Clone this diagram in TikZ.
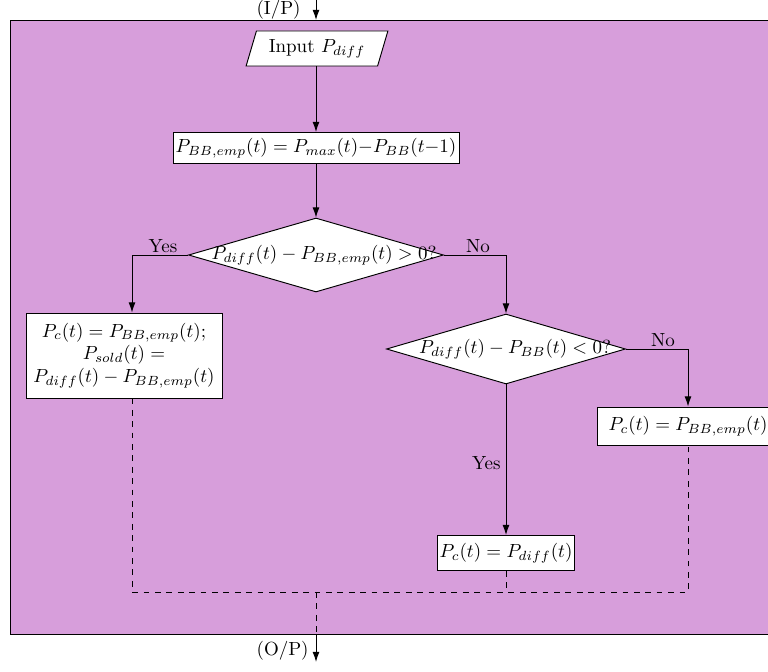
\documentclass[tikz,border=0pt]{standalone}
\usetikzlibrary{shapes.geometric,arrows.meta}
\definecolor{panel}{RGB}{215,158,219}
\def\pu{0.5263pt}
\begin{document}
\begin{tikzpicture}[x=\pu,y=-\pu,line width=0.5pt,
  >={Latex[length=5.3pt,width=3.6pt]},
  proc/.style={draw,fill=white,inner sep=0pt,align=center},
  io/.style={draw,fill=white,trapezium,trapezium left angle=66,
    trapezium right angle=114,trapezium stretches=true,inner sep=0pt},
  decision/.style={draw,fill=white,diamond,inner sep=0pt},
  lbl/.style={inner sep=1pt}]
\clip (0,0) rectangle (768,671);
% shaded panel holding the whole procedure
\fill[panel] (10,20) rectangle (780,634);
\draw (780,20) -- (10,20) -- (10,634) -- (780,634);

% flowchart blocks
\node[io,minimum width=142*\pu,minimum height=35*\pu] (inp) at (317,48.5) {Input $P_{diff}$};
\node[proc,minimum width=286*\pu,minimum height=31*\pu] (emp) at (316,148)
  {$P_{BB,emp}(t) = P_{max}(t){-}P_{BB}(t{-}1)$};
\node[decision,minimum width=255*\pu,minimum height=74*\pu] (d1) at (316,255) {};
\node[lbl] (d1t) at (324,255) {$P_{diff}(t) - P_{BB,emp}(t) > 0?$};
\node[proc,minimum width=196*\pu,minimum height=85*\pu] (lbox) at (124,355.5)
  {$P_c(t) = P_{BB,emp}(t);$\\ $P_{sold}(t) =$\\ $P_{diff}(t) - P_{BB,emp}(t)$};
\node[decision,minimum width=239*\pu,minimum height=70*\pu] (d2) at (506,349) {};
\node[lbl] (d2t) at (515,349) {$P_{diff}(t) - P_{BB}(t) < 0?$};
\node[proc,minimum width=182*\pu,minimum height=38*\pu] (rbox) at (688,426) {$P_c(t) = P_{BB,emp}(t)$};
\node[proc,minimum width=137*\pu,minimum height=35*\pu] (bbox) at (506,553) {$P_c(t) = P_{diff}(t)$};

% entry and exit points on the panel border
\coordinate (top) at (316,0);
\coordinate (ftop) at (316,20);
\coordinate (fbot) at (316,634);
\coordinate (bot) at (316,662);
\coordinate (yx) at (132,255);
\coordinate (mj) at (316,592);

\node[lbl,anchor=east] (inl) at (303,10) {(I/P)};
\node[lbl,anchor=east] (outl) at (311,651) {(O/P)};

% connectors
\draw[->] (top) -- (ftop);
\draw[->] (inp.south -| emp.north) -- (emp.north);
\draw[->] (emp.south) -- (d1.north);
\draw[->] (d1.west) -| (lbox.north -| yx);
\draw[->] (d1.east) -| (d2.north);
\draw[->] (d2.east) -| (rbox.north);
\draw[->] (d2.south) -- (bbox.north);

\node[lbl,anchor=south] (y1) at (163,255) {Yes};
\node[lbl,anchor=south] (n1) at (478,255) {No};
\node[lbl,anchor=south] (n2) at (663,349) {No};
\node[lbl,anchor=east] (y2) at (503,463) {Yes};

% merging results towards the output
\draw[dashed] (lbox.south -| yx) -- (yx |- mj) -- (mj -| rbox.south) -- (rbox.south);
\draw[dashed] (bbox.south) -- (bbox.south |- mj);
\draw[dashed] (mj) -- (fbot);
\draw[->] (fbot) -- (bot);
\end{tikzpicture}
\end{document}
